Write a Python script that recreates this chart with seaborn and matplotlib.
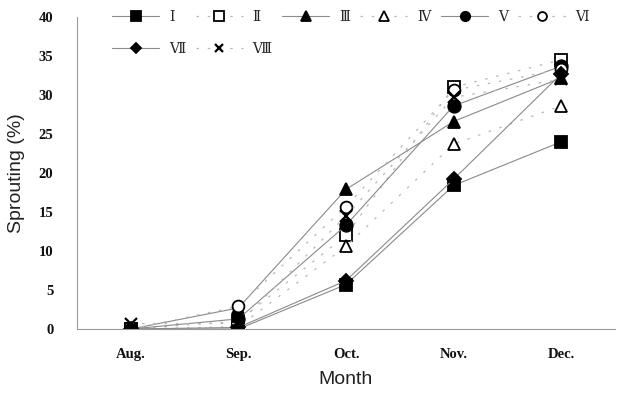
import matplotlib
matplotlib.use("Agg")
import matplotlib.pyplot as plt
import seaborn as sns
import pandas as pd

months = ["Aug.", "Sep.", "Oct.", "Nov.", "Dec."]
series_names = ["Ⅰ", "Ⅱ", "Ⅲ", "Ⅳ", "Ⅴ", "Ⅵ", "Ⅶ", "Ⅷ"]
s1 = [0.0, 0.0, 5.7, 18.4, 24.0]
s2 = [0.0, 1.0, 12.0, 31.0, 34.5]
s3 = [0.0, 2.7, 17.9, 26.6, 32.2]
s4 = [0.0, 0.3, 10.6, 23.7, 28.6]
s5 = [0.0, 1.3, 13.3, 28.6, 33.7]
s6 = [0.0, 2.9, 15.7, 30.6, 33.3]
s7 = [0.0, 0.2, 6.2, 19.2, 32.7]
s8 = [0.7, 0.7, 14.5, 29.7, 32.0]
values = [s1, s2, s3, s4, s5, s6, s7, s8]
yticks = [0, 5, 10, 15, 20, 25, 30, 35, 40]

rows = []
for name, vals in zip(series_names, values):
    for i, v in enumerate(vals):
        rows.append({"series": name, "x": i, "month": months[i], "value": v})
df = pd.DataFrame(rows)

sns.set_theme(style="white")
plt.rcParams["font.family"] = ["Liberation Sans", "DejaVu Sans"]

fig = plt.figure(figsize=(6.19, 3.93), dpi=100)
ax = fig.add_axes([77 / 619, 1 - 329 / 393, (615 - 77) / 619, (329 - 17) / 393])

markers = ["s", "s", "^", "^", "o", "o", "D", "x"]
filled = [True, False, True, False, True, False, True, True]
solid = [True, False, True, False, True, False, True, False]
msizes = [9, 9, 9, 9, 9, 8.5, 7, 8]

for k, name in enumerate(series_names):
    sub = df[df["series"] == name]
    if solid[k]:
        ls_kw = dict(color="#8a8a8a", linewidth=0.8, linestyle="-")
    else:
        ls_kw = dict(color="#b8b8b8", linewidth=0.9, linestyle=(0, (2, 7)))
    sns.lineplot(data=sub, x="x", y="value", ax=ax, label=name, marker=markers[k],
                 markersize=msizes[k],
                 markerfacecolor=("black" if filled[k] else "white"),
                 markeredgecolor="black",
                 markeredgewidth=(1.6 if markers[k] == "x" else 1.3),
                 estimator=None, errorbar=None, **ls_kw)

ax.set_xlim(-0.5, 4.5)
ax.set_ylim(0, 40)
ax.set_xticks(range(len(months)))
ax.set_xticklabels(months)
ax.set_xticks([0.5, 1.5, 2.5, 3.5, 4.5], minor=True)
ax.tick_params(axis="x", which="major", length=0, pad=14)
ax.tick_params(axis="x", which="minor", direction="in", length=4, width=0.6, color="#888888")
ax.set_yticks(yticks)
ax.tick_params(axis="y", which="major", direction="out", length=3, width=0.6, color="#888888", pad=14)
for lab in ax.get_xticklabels() + ax.get_yticklabels():
    lab.set_fontfamily("Liberation Serif")
    lab.set_fontweight("bold")
    lab.set_fontsize(10.5)
    lab.set_color("#111111")

for sp in ["top", "right"]:
    ax.spines[sp].set_visible(False)
for sp in ["left", "bottom"]:
    ax.spines[sp].set_color("#9a9a9a")
    ax.spines[sp].set_linewidth(0.8)

ax.set_xlabel("Month", fontsize=14, color="#222222", labelpad=7)
ax.set_ylabel("Sprouting (%)", fontsize=14, color="#222222", labelpad=10)

handles, labels = ax.get_legend_handles_labels()
order = [0, 6, 1, 7, 2, 3, 4, 5]
leg = ax.legend([handles[i] for i in order], [labels[i] for i in order], ncol=6,
                frameon=False, loc="upper left",
                bbox_to_anchor=(112 / 619, 1 - 10 / 393), bbox_transform=fig.transFigure,
                borderpad=0, borderaxespad=0, handlelength=3.4, handletextpad=0.7,
                columnspacing=0.75, labelspacing=1.3, markerscale=0.75,
                prop={"family": ["DejaVu Serif", "Noto Sans CJK SC"], "size": 10})

fig.savefig("out.png", dpi=100, facecolor="white")
